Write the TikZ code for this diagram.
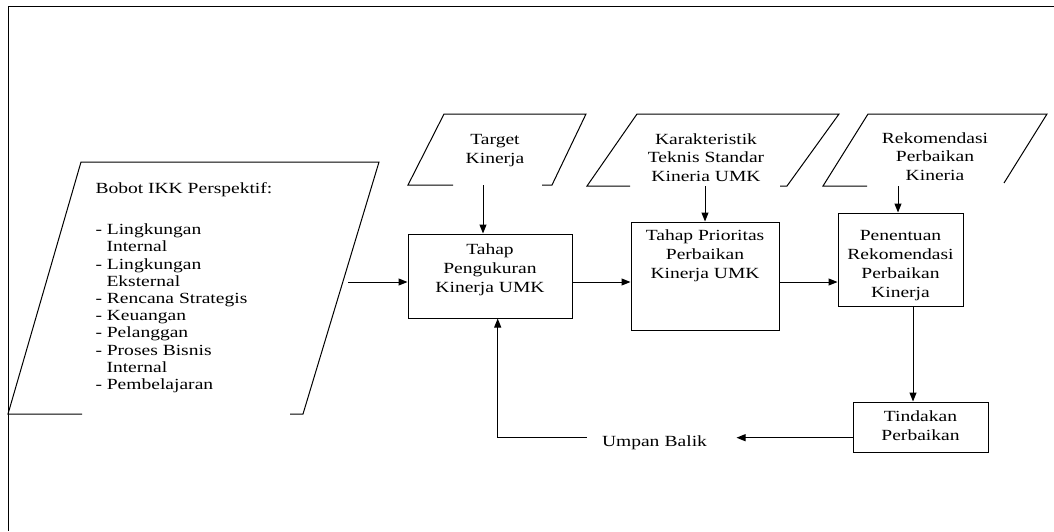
\documentclass[tikz,border=0pt]{standalone}
\usepackage{fontspec}
\setmainfont{Liberation Serif}[FakeStretch=1.26]
\usetikzlibrary{arrows.meta,calc}

\begin{document}
\begin{tikzpicture}[x=1pt, y=-1pt, line width=1pt,
    arr/.style={-{Triangle[length=9pt,width=7pt]}}]
      \useasboundingbox (0,0) rectangle (1054,531);
      \draw (1054,6) -- (8,6) -- (8,531);
      \begin{scope}[every node/.style={draw, align=center, inner sep=0pt,
          text depth=0pt, font=\fontsize{15.5}{19}\selectfont}]
        \node[minimum width=164pt, minimum height=84pt, text height=32pt] (pk) at (490,276) {Tahap\\Pengukuran\\Kinerja UMK};
        \node[minimum width=148pt, minimum height=108pt, text height=4pt] (pp) at (705,276) {Tahap Prioritas\\Perbaikan\\Kinerja UMK};
        \node[minimum width=125pt, minimum height=93pt, text height=76pt] (pr) at (900.5,259.5) {Penentuan\\Rekomendasi\\Perbaikan\\Kinerja};
        \node[minimum width=135pt, minimum height=50pt, text height=26pt] (td) at (920.5,427) {Tindakan\\Perbaikan};
      \end{scope}
      \draw (82,414) -- (8,414) -- (81,162) -- (379,162) -- (303,414) -- (290,414);
      \draw (453,185) -- (408,185) -- (444,114) -- (586,114) -- (552,185) -- (542,185);
      \draw (630,186) -- (587,186) -- (637,114) -- (839,114) -- (787,186) -- (780,186);
      \draw (867,186) -- (823,186) -- (868,114) -- (1047,114) -- (1004,183);
      \begin{scope}[every node/.style={align=center, inner sep=0pt, anchor=base,
          font=\fontsize{15.5}{18.3}\selectfont}]
        \node (tk) at (495,163) {Target\\Kinerja};
        \node (kt) at (706,181) {Karakteristik\\Teknis Standar\\Kineria UMK};
        \node (rk) at (935,180) {Rekomendasi\\Perbaikan\\Kineria};
        \node[align=left, anchor=base west, font=\fontsize{15.5}{17.2}\selectfont] (bb) at (95,389.5)
          {Bobot IKK Perspektif:\\[24.5pt]- Lingkungan\\\hspace*{11pt}Internal\\- Lingkungan\\\hspace*{11pt}Eksternal\\- Rencana Strategis\\- Keuangan\\- Pelanggan\\- Proses Bisnis\\\hspace*{11pt}Internal\\- Pembelajaran};
        \node[inner xsep=15pt, text width=119pt, align=left] (ub) at (661.5,446) {Umpan Balik};
      \end{scope}
      \coordinate (bbR) at (348,282);
      \coordinate (tkB) at (483,185);
      \coordinate (ktB) at (705,186);
      \coordinate (rkB) at (898,186);
      \coordinate (fb) at (0,437.7);
      \coordinate (down) at ($(td.north)+(-7.5,0)$);
      \draw[arr] (bbR) -- (pk.west |- bbR);
      \draw[arr] (pk.east |- bbR) -- (pp.west |- bbR);
      \draw[arr] (pp.east |- bbR) -- (pr.west |- bbR);
      \draw[arr] (tkB) -- (tkB |- pk.north);
      \draw[arr] (ktB) -- (ktB |- pp.north);
      \draw[arr] (rkB) -- (rkB |- pr.north);
      \draw[arr] (down |- pr.south) -- (down);
      \draw[arr] (td.west |- fb) -- (ub.east |- fb);
      \draw[arr] (ub.west |- fb) -| ($(pk.south)+(7.7,0)$);
\end{tikzpicture}
\end{document}
